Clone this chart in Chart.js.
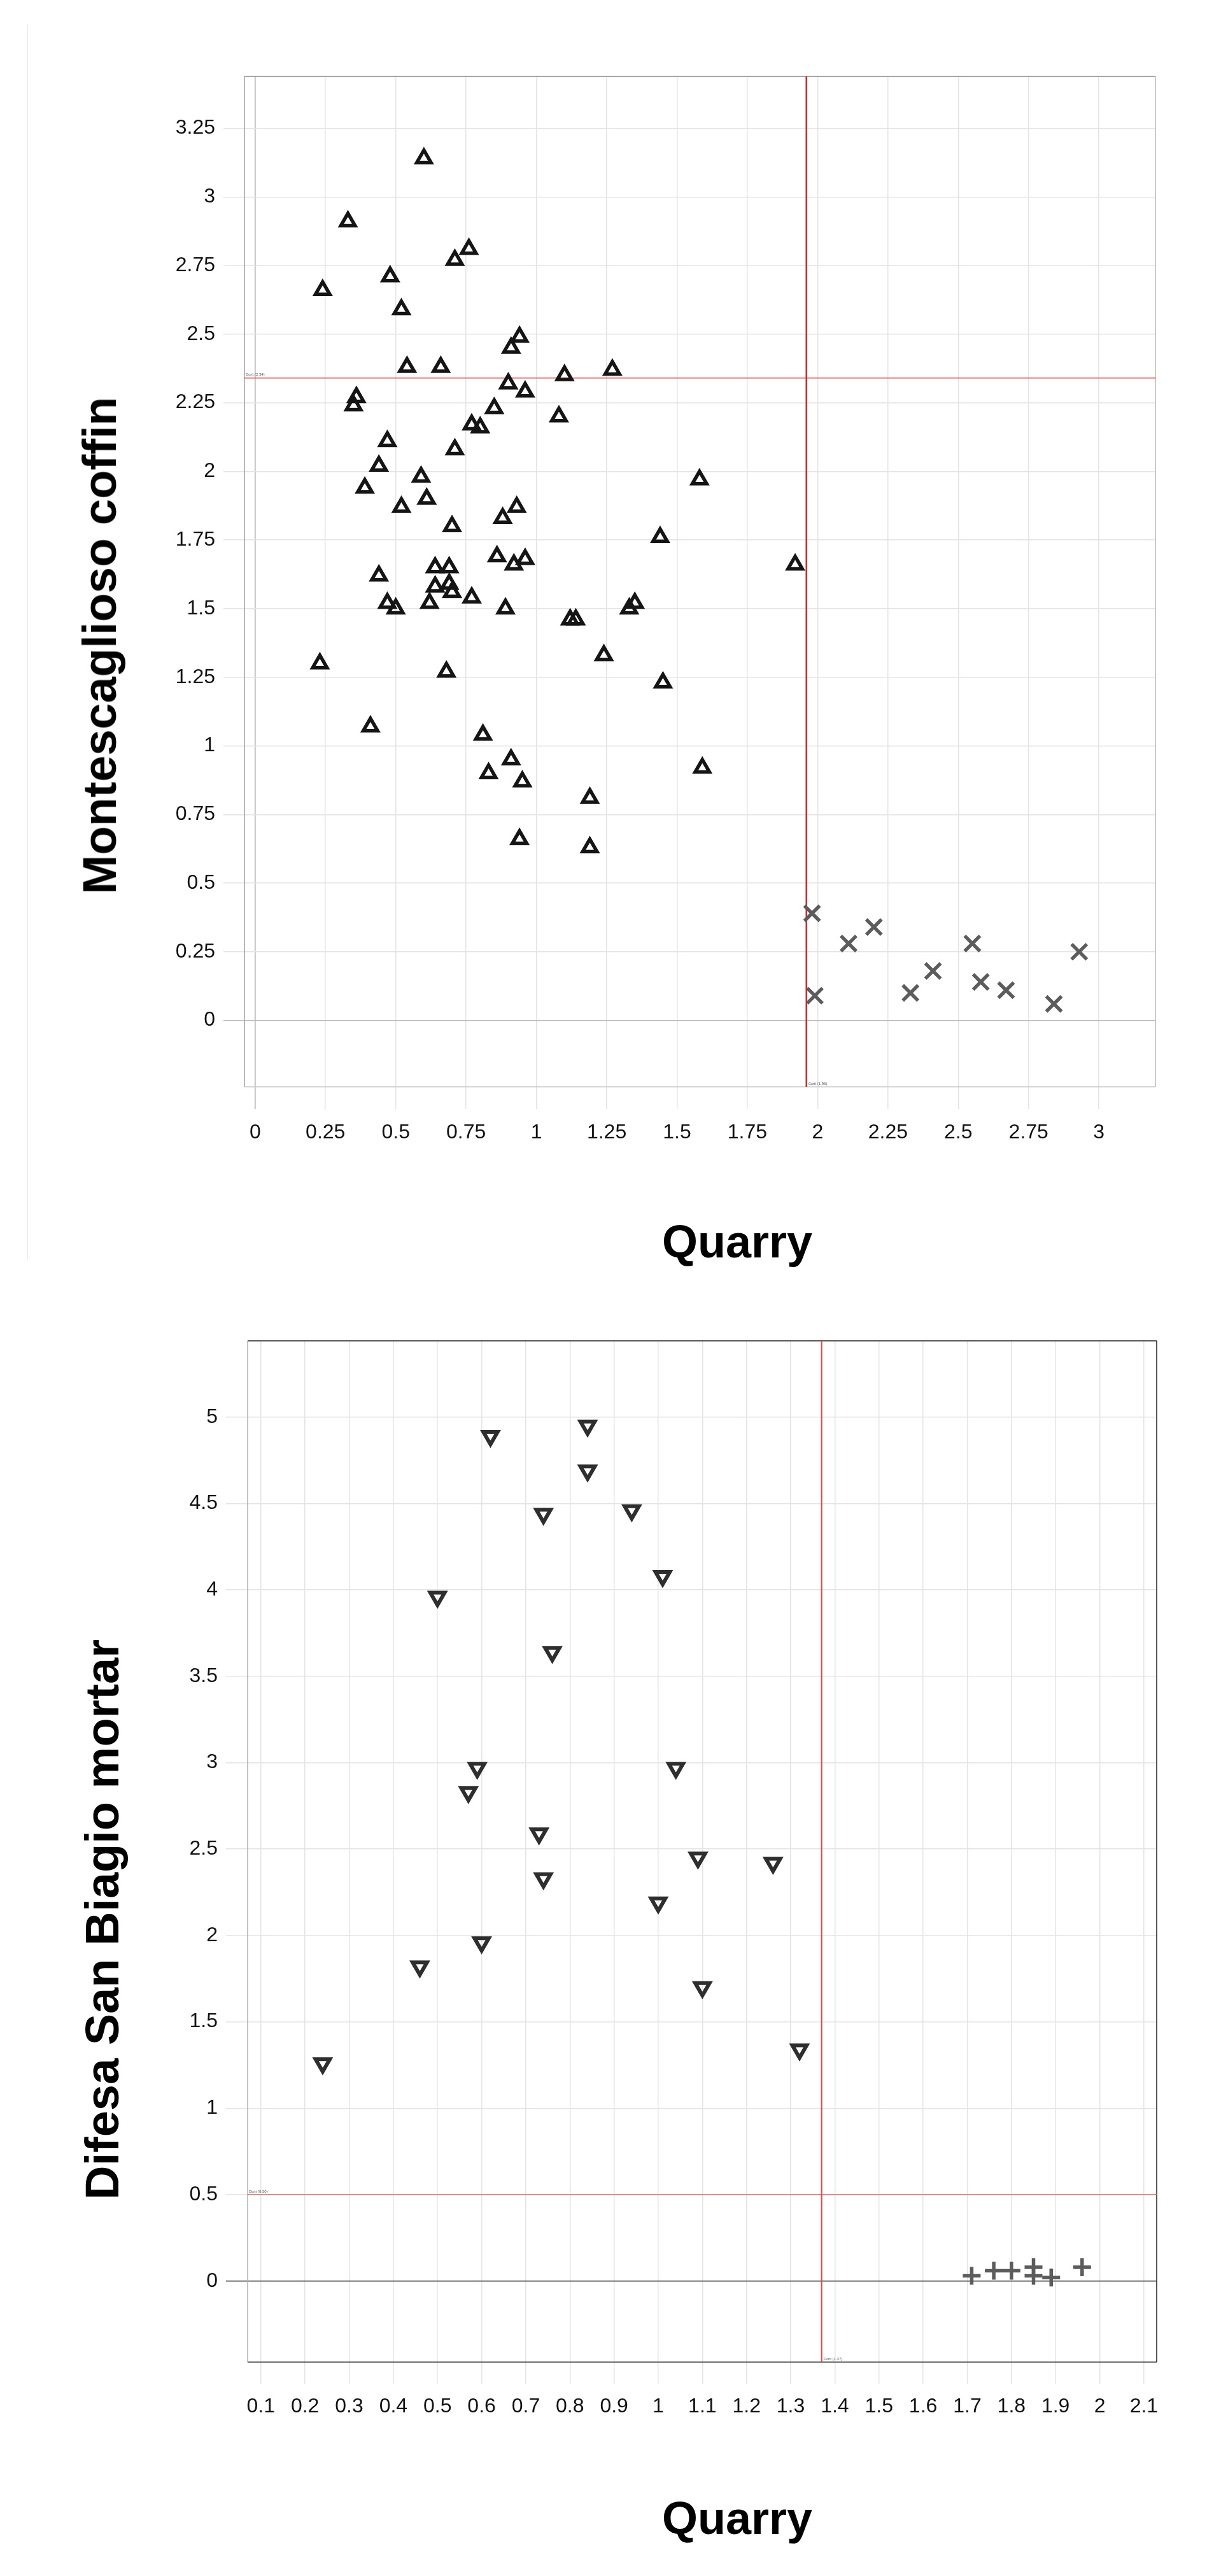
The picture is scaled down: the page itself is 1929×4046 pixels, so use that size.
<!DOCTYPE html>
<html>
<head>
<meta charset="utf-8">
<title>Quarry comparison</title>
<script src="https://cdn.jsdelivr.net/npm/chart.js@4.4.1/dist/chart.umd.min.js"></script>
<style>
    html, body { margin: 0; padding: 0; background: #fff; }
    body {
        width: 1929px; height: 4046px; position: relative; overflow: hidden;
        font-family: "Liberation Sans", Arial, sans-serif;
    }
    canvas { position: absolute; left: 0; }
    #coffin-chart { top: 0; }
    #mortar-chart { top: 2000px; }
    .axis-title {
        position: absolute; font-weight: bold; color: #000; white-space: nowrap;
    }
    .x-title { font-size: 72px; line-height: 72px; transform: translateX(-50%); }
    .y-title { font-size: 74px; line-height: 74px; transform: translate(-50%, -50%) rotate(-90deg); }
    .edge { position: absolute; left: 42px; top: 38px; width: 2px; height: 1940px; background: #eee; }
</style>
</head>
<body>
<div class="edge"></div>
<canvas id="coffin-chart" width="1929" height="2000" style="width:1929px;height:2000px"></canvas>
<canvas id="mortar-chart" width="1929" height="2046" style="width:1929px;height:2046px"></canvas>
<div class="axis-title y-title" style="left:157px;top:1014px">Montescaglioso coffin</div>
<div class="axis-title x-title" style="left:1158px;top:1914px">Quarry</div>
<div class="axis-title y-title" style="left:161px;top:3015px">Difesa San Biagio mortar</div>
<div class="axis-title x-title" style="left:1158px;top:3919px">Quarry</div>
<script>
// --- Montescaglioso coffin vs quarry ---
const COFFIN_TRI_X = [0.60, 0.33, 0.76, 0.71, 0.48, 0.24, 0.52, 0.94, 0.91, 0.54, 0.66, 1.27, 1.10, 0.90, 0.96,
    0.36, 0.35, 0.85, 1.08, 0.77, 0.80, 0.47, 0.71, 0.44, 0.59, 1.58, 0.39, 0.61, 0.52, 0.93,
    0.88, 0.70, 1.44, 1.92, 0.64, 0.69, 0.86, 0.96, 0.92, 0.44, 0.64, 0.69, 0.70, 0.62, 0.47,
    0.50, 0.77, 0.89, 1.35, 1.33, 1.12, 1.14, 1.24, 0.23, 0.68, 1.45, 0.41, 0.81, 0.91, 0.83,
    1.59, 0.95, 1.19, 0.94, 1.19];
const COFFIN_TRI_Y = [3.14, 2.91, 2.81, 2.77, 2.71, 2.66, 2.59, 2.49, 2.45, 2.38, 2.38, 2.37, 2.35, 2.32, 2.29,
    2.27, 2.24, 2.23, 2.20, 2.17, 2.16, 2.11, 2.08, 2.02, 1.98, 1.97, 1.94, 1.90, 1.87, 1.87,
    1.83, 1.80, 1.76, 1.66, 1.65, 1.65, 1.69, 1.68, 1.66, 1.62, 1.58, 1.59, 1.56, 1.52, 1.52,
    1.50, 1.54, 1.50, 1.52, 1.50, 1.46, 1.46, 1.33, 1.30, 1.27, 1.23, 1.07, 1.04, 0.95, 0.90,
    0.92, 0.87, 0.81, 0.66, 0.63];
const COFFIN_CROSS_X = [1.98, 1.99, 2.11, 2.20, 2.33, 2.41, 2.55, 2.58, 2.67, 2.84, 2.93];
const COFFIN_CROSS_Y = [0.39, 0.09, 0.28, 0.34, 0.10, 0.18, 0.28, 0.14, 0.11, 0.06, 0.25];
const COFFIN_X_TICKS = [0, 0.25, 0.5, 0.75, 1, 1.25, 1.5, 1.75, 2, 2.25, 2.5, 2.75, 3];
const COFFIN_Y_TICKS = [0, 0.25, 0.5, 0.75, 1, 1.25, 1.5, 1.75, 2, 2.25, 2.5, 2.75, 3, 3.25];
const COFFIN_CCRIT = 1.96;
const COFFIN_DCRIT = 2.34;

// --- Difesa San Biagio mortar vs quarry ---
const MORTAR_TRI_X = [0.84, 0.62, 0.84, 0.74, 0.94, 1.01, 0.50, 0.76, 0.59, 1.04, 0.57, 0.73, 1.09, 1.26, 0.74,
    1.00, 0.60, 0.46, 1.10, 1.32, 0.24];
const MORTAR_TRI_Y = [4.95, 4.89, 4.69, 4.44, 4.46, 4.08, 3.96, 3.64, 2.97, 2.97, 2.83, 2.59, 2.45, 2.42, 2.33,
    2.19, 1.96, 1.82, 1.70, 1.34, 1.26];
const MORTAR_PLUS_X = [1.71, 1.76, 1.80, 1.85, 1.85, 1.89, 1.96];
const MORTAR_PLUS_Y = [0.03, 0.06, 0.06, 0.08, 0.03, 0.02, 0.08];
const MORTAR_X_TICKS = [0.1, 0.2, 0.3, 0.4, 0.5, 0.6, 0.7, 0.8, 0.9, 1, 1.1, 1.2, 1.3, 1.4, 1.5, 1.6, 1.7, 1.8,
    1.9, 2, 2.1];
const MORTAR_Y_TICKS = [0, 0.5, 1, 1.5, 2, 2.5, 3, 3.5, 4, 4.5, 5];
const MORTAR_CCRIT = 1.37;
const MORTAR_DCRIT = 0.50;

const FONT = "'Liberation Sans', Arial, sans-serif";

function toPoints(xs, ys) {
    return xs.map((x, i) => ({ x, y: ys[i] }));
}

// plot frame, one colour per side
const framePlugin = {
    id: "frame",
    beforeDatasetsDraw(chart, args, opts) {
        const { ctx, chartArea: a } = chart;
        const side = (color, x1, y1, x2, y2) => {
            ctx.strokeStyle = color;
            ctx.beginPath();
            ctx.moveTo(x1, y1);
            ctx.lineTo(x2, y2);
            ctx.stroke();
        };
        ctx.save();
        ctx.lineWidth = 1.5;
        side(opts.left, a.left, a.top, a.left, a.bottom);
        side(opts.bottom, a.left, a.bottom, a.right, a.bottom);
        side(opts.right, a.right, a.top, a.right, a.bottom);
        side(opts.top, a.left, a.top, a.right, a.top);
        ctx.restore();
    },
};

// critical value lines with their small captions
const critPlugin = {
    id: "crit",
    beforeDatasetsDraw(chart, args, opts) {
        const { ctx, chartArea: a, scales } = chart;
        const px = scales.x.getPixelForValue(opts.x);
        const py = scales.y.getPixelForValue(opts.y);
        ctx.save();
        ctx.strokeStyle = opts.hColor;
        ctx.lineWidth = opts.hWidth;
        ctx.beginPath();
        ctx.moveTo(a.left, py);
        ctx.lineTo(a.right, py);
        ctx.stroke();
        ctx.strokeStyle = opts.vColor;
        ctx.lineWidth = opts.vWidth;
        ctx.beginPath();
        ctx.moveTo(px, a.top);
        ctx.lineTo(px, a.bottom);
        ctx.stroke();
        ctx.fillStyle = "#555";
        ctx.font = `6px ${FONT}`;
        ctx.textBaseline = "bottom";
        ctx.fillText(`${opts.yName} (${opts.y.toFixed(2)})`, a.left + 2, py - 2);
        ctx.fillText(`${opts.xName} (${opts.x.toFixed(2)})`, px + 3, a.bottom - 2);
        ctx.restore();
    },
};

function makeAxis(min, max, tickValues, o) {
    return {
        type: "linear",
        min: min,
        max: max,
        afterBuildTicks: (s) => {
            s.ticks = tickValues.map((v) => ({ value: v }));
        },
        afterFit: (s) => {
            if (s.isHorizontal()) s.height = o.size;
            else s.width = o.size;
        },
        border: { display: false },
        grid: {
            color: (c) => (c.tick && c.tick.value === 0 ? o.zeroColor : "#e4e4e4"),
            lineWidth: 1.5,
            tickLength: o.tickLength,
        },
        ticks: {
            color: "#111",
            font: { family: FONT, size: 32 },
            padding: o.pad,
            autoSkip: false,
            maxRotation: 0,
            minRotation: 0,
            callback: (v) => String(v),
        },
    };
}

function baseOptions(layoutPad) {
    return {
        responsive: false,
        devicePixelRatio: 1,
        animation: false,
        events: [],
        layout: { padding: layoutPad },
        plugins: {
            legend: { display: false },
            tooltip: { enabled: false },
        },
    };
}

// outlined marker: a grey wide stroke with a pale narrow stroke on top
function outlinedMarker(points, style, radius) {
    return [
        {
            data: points,
            pointStyle: style,
            pointRadius: radius,
            pointBorderWidth: 5.5,
            pointBorderColor: "#5c5c5c",
            pointBackgroundColor: "rgba(255,255,255,0)",
        },
        {
            data: points,
            pointStyle: style,
            pointRadius: radius - 1.5,
            pointBorderWidth: 2.2,
            pointBorderColor: "#ececec",
            pointBackgroundColor: "rgba(255,255,255,0)",
        },
    ];
}

// top chart
const coffinOptions = baseOptions({ left: 0, top: 120, right: 114, bottom: 0 });
coffinOptions.scales = {
    x: makeAxis(-0.038, 3.201, COFFIN_X_TICKS, { size: 293, tickLength: 35, pad: 18, zeroColor: "#a8a8a8" }),
    y: makeAxis(-0.242, 3.439, COFFIN_Y_TICKS, { size: 384, tickLength: 33, pad: 13, zeroColor: "#b8b8b8" }),
};
coffinOptions.plugins.frame = { left: "#a0a0a0", bottom: "#c8c8c8", right: "#b8b8b8", top: "#8a8a8a" };
coffinOptions.plugins.crit = {
    x: COFFIN_CCRIT, y: COFFIN_DCRIT, xName: "Ccrit", yName: "Dcrit",
    vColor: "#ee1c1c", vWidth: 2.5, hColor: "#e84848", hWidth: 1.5,
};

new Chart(document.getElementById("coffin-chart").getContext("2d"), {
    type: "scatter",
    data: {
        datasets: [
            {
                label: "below Ccrit",
                data: toPoints(COFFIN_TRI_X, COFFIN_TRI_Y),
                pointStyle: "triangle",
                pointRadius: 13,
                pointBorderWidth: 5.5,
                pointBorderColor: "#151515",
                pointBackgroundColor: "rgba(255,255,255,0)",
            },
            ...outlinedMarker(toPoints(COFFIN_CROSS_X, COFFIN_CROSS_Y), "crossRot", 17),
        ],
    },
    options: coffinOptions,
    plugins: [framePlugin, critPlugin],
});

// bottom chart
const mortarOptions = baseOptions({ left: 0, top: 106, right: 112, bottom: 0 });
mortarOptions.scales = {
    x: makeAxis(0.070, 2.129, MORTAR_X_TICKS, { size: 336, tickLength: 34, pad: 17, zeroColor: "#e4e4e4" }),
    y: makeAxis(-0.469, 5.441, MORTAR_Y_TICKS, { size: 389, tickLength: 34, pad: 13, zeroColor: "#3a3a3a" }),
};
mortarOptions.plugins.frame = { left: "#b0b0b0", bottom: "#404040", right: "#202020", top: "#202020" };
mortarOptions.plugins.crit = {
    x: MORTAR_CCRIT, y: MORTAR_DCRIT, xName: "Ccrit", yName: "Dcrit",
    vColor: "#f04040", vWidth: 2, hColor: "#e06a6a", hWidth: 1.5,
};

new Chart(document.getElementById("mortar-chart").getContext("2d"), {
    type: "scatter",
    data: {
        datasets: [
            {
                label: "below Ccrit",
                data: toPoints(MORTAR_TRI_X, MORTAR_TRI_Y),
                pointStyle: "triangle",
                pointRotation: 180,
                pointRadius: 13,
                pointBorderWidth: 6,
                pointBorderColor: "#2e2e2e",
                pointBackgroundColor: "rgba(255,255,255,0)",
            },
            ...outlinedMarker(toPoints(MORTAR_PLUS_X, MORTAR_PLUS_Y), "cross", 14),
        ],
    },
    options: mortarOptions,
    plugins: [framePlugin, critPlugin],
});
</script>
</body>
</html>
